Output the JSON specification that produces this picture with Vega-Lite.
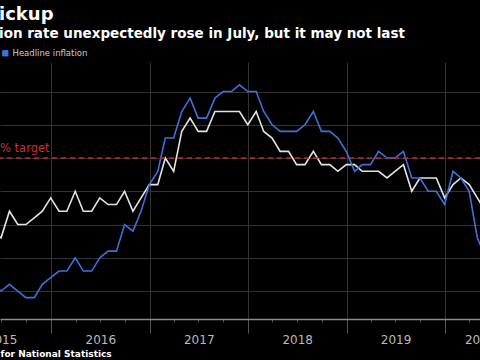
{
  "$schema": "https://vega.github.io/schema/vega-lite/v6.json",
  "width": 480,
  "height": 257,
  "autosize": {"type": "none"},
  "padding": {"top": 62, "left": 0, "right": 0, "bottom": 41},
  "background": "#000000",
  "config": {"view": {"stroke": null}, "font": "DejaVu Sans"},
  "title": {
    "text": "ickup",
    "subtitle": "ion rate unexpectedly rose in July, but it may not last",
    "anchor": "start",
    "frame": "group",
    "color": "#ffffff",
    "fontSize": 18,
    "fontWeight": "bold",
    "subtitleColor": "#ffffff",
    "subtitleFontSize": 13.5,
    "subtitleFontWeight": "bold",
    "subtitlePadding": 3,
    "offset": 9,
    "dx": -1
  },
  "datasets": {
    "infl": [
      {"date": "2015-01-31", "headline": 0.3, "core": 1.4},
      {"date": "2015-02-28", "headline": 0.0, "core": 1.2},
      {"date": "2015-03-31", "headline": 0.0, "core": 1.0},
      {"date": "2015-04-30", "headline": -0.1, "core": 0.8},
      {"date": "2015-05-31", "headline": 0.1, "core": 0.9},
      {"date": "2015-06-30", "headline": 0.0, "core": 0.8},
      {"date": "2015-07-31", "headline": 0.1, "core": 1.2},
      {"date": "2015-08-31", "headline": 0.0, "core": 1.0},
      {"date": "2015-09-30", "headline": -0.1, "core": 1.0},
      {"date": "2015-10-31", "headline": -0.1, "core": 1.1},
      {"date": "2015-11-30", "headline": 0.1, "core": 1.2},
      {"date": "2015-12-31", "headline": 0.2, "core": 1.4},
      {"date": "2016-01-31", "headline": 0.3, "core": 1.2},
      {"date": "2016-02-29", "headline": 0.3, "core": 1.2},
      {"date": "2016-03-31", "headline": 0.5, "core": 1.5},
      {"date": "2016-04-30", "headline": 0.3, "core": 1.2},
      {"date": "2016-05-31", "headline": 0.3, "core": 1.2},
      {"date": "2016-06-30", "headline": 0.5, "core": 1.4},
      {"date": "2016-07-31", "headline": 0.6, "core": 1.3},
      {"date": "2016-08-31", "headline": 0.6, "core": 1.3},
      {"date": "2016-09-30", "headline": 1.0, "core": 1.5},
      {"date": "2016-10-31", "headline": 0.9, "core": 1.2},
      {"date": "2016-11-30", "headline": 1.2, "core": 1.4},
      {"date": "2016-12-31", "headline": 1.6, "core": 1.6},
      {"date": "2017-01-31", "headline": 1.8, "core": 1.6},
      {"date": "2017-02-28", "headline": 2.3, "core": 2.0},
      {"date": "2017-03-31", "headline": 2.3, "core": 1.8},
      {"date": "2017-04-30", "headline": 2.7, "core": 2.4},
      {"date": "2017-05-31", "headline": 2.9, "core": 2.6},
      {"date": "2017-06-30", "headline": 2.6, "core": 2.4},
      {"date": "2017-07-31", "headline": 2.6, "core": 2.4},
      {"date": "2017-08-31", "headline": 2.9, "core": 2.7},
      {"date": "2017-09-30", "headline": 3.0, "core": 2.7},
      {"date": "2017-10-31", "headline": 3.0, "core": 2.7},
      {"date": "2017-11-30", "headline": 3.1, "core": 2.7},
      {"date": "2017-12-31", "headline": 3.0, "core": 2.5},
      {"date": "2018-01-31", "headline": 3.0, "core": 2.7},
      {"date": "2018-02-28", "headline": 2.7, "core": 2.4},
      {"date": "2018-03-31", "headline": 2.5, "core": 2.3},
      {"date": "2018-04-30", "headline": 2.4, "core": 2.1},
      {"date": "2018-05-31", "headline": 2.4, "core": 2.1},
      {"date": "2018-06-30", "headline": 2.4, "core": 1.9},
      {"date": "2018-07-31", "headline": 2.5, "core": 1.9},
      {"date": "2018-08-31", "headline": 2.7, "core": 2.1},
      {"date": "2018-09-30", "headline": 2.4, "core": 1.9},
      {"date": "2018-10-31", "headline": 2.4, "core": 1.9},
      {"date": "2018-11-30", "headline": 2.3, "core": 1.8},
      {"date": "2018-12-31", "headline": 2.1, "core": 1.9},
      {"date": "2019-01-31", "headline": 1.8, "core": 1.9},
      {"date": "2019-02-28", "headline": 1.9, "core": 1.8},
      {"date": "2019-03-31", "headline": 1.9, "core": 1.8},
      {"date": "2019-04-30", "headline": 2.1, "core": 1.8},
      {"date": "2019-05-31", "headline": 2.0, "core": 1.7},
      {"date": "2019-06-30", "headline": 2.0, "core": 1.8},
      {"date": "2019-07-31", "headline": 2.1, "core": 1.9},
      {"date": "2019-08-31", "headline": 1.7, "core": 1.5},
      {"date": "2019-09-30", "headline": 1.7, "core": 1.7},
      {"date": "2019-10-31", "headline": 1.5, "core": 1.7},
      {"date": "2019-11-30", "headline": 1.5, "core": 1.7},
      {"date": "2019-12-31", "headline": 1.3, "core": 1.4},
      {"date": "2020-01-31", "headline": 1.8, "core": 1.6},
      {"date": "2020-02-29", "headline": 1.7, "core": 1.7},
      {"date": "2020-03-31", "headline": 1.5, "core": 1.6},
      {"date": "2020-04-30", "headline": 0.8, "core": 1.4},
      {"date": "2020-05-31", "headline": 0.5, "core": 1.2},
      {"date": "2020-06-30", "headline": 0.6, "core": 1.4},
      {"date": "2020-07-31", "headline": 1.0, "core": 1.8}
    ],
    "target": [{"level": 2, "label": "% target"}]
  },
  "layer": [
    {
      "data": {"name": "infl"},
      "transform": [{"fold": ["core", "headline"], "as": ["series", "value"]}],
      "mark": {"type": "line", "clip": true, "strokeWidth": 1.6},
      "encoding": {
        "x": {
          "field": "date",
          "type": "temporal",
          "scale": {
            "type": "utc",
            "nice": false,
            "domain": [
              {"year": 2015, "month": 6, "date": 26, "utc": true},
              {"year": 2020, "month": 5, "date": 10, "utc": true}
            ]
          },
          "axis": {
            "orient": "bottom",
            "title": null,
            "labels": false,
            "values": [
              {"year": 2015, "month": 7, "date": 1, "utc": true},
              {"year": 2015, "month": 10, "date": 1, "utc": true},
              {"year": 2016, "month": 1, "date": 1, "utc": true},
              {"year": 2016, "month": 4, "date": 1, "utc": true},
              {"year": 2016, "month": 7, "date": 1, "utc": true},
              {"year": 2016, "month": 10, "date": 1, "utc": true},
              {"year": 2017, "month": 1, "date": 1, "utc": true},
              {"year": 2017, "month": 4, "date": 1, "utc": true},
              {"year": 2017, "month": 7, "date": 1, "utc": true},
              {"year": 2017, "month": 10, "date": 1, "utc": true},
              {"year": 2018, "month": 1, "date": 1, "utc": true},
              {"year": 2018, "month": 4, "date": 1, "utc": true},
              {"year": 2018, "month": 7, "date": 1, "utc": true},
              {"year": 2018, "month": 10, "date": 1, "utc": true},
              {"year": 2019, "month": 1, "date": 1, "utc": true},
              {"year": 2019, "month": 4, "date": 1, "utc": true},
              {"year": 2019, "month": 7, "date": 1, "utc": true},
              {"year": 2019, "month": 10, "date": 1, "utc": true},
              {"year": 2020, "month": 1, "date": 1, "utc": true},
              {"year": 2020, "month": 4, "date": 1, "utc": true}
            ],
            "grid": true,
            "gridColor": "#333333",
            "gridOpacity": {"condition": {"test": "utcmonth(datum.value) == 0", "value": 1}, "value": 0},
            "tickSize": {"condition": {"test": "utcmonth(datum.value) == 0", "value": 14}, "value": 3},
            "tickColor": "#555555",
            "domainColor": "#8c8c8c",
            "domainWidth": 1.5
          }
        },
        "y": {
          "field": "value",
          "type": "quantitative",
          "scale": {"domain": [-0.421, 3.444], "nice": false, "zero": false},
          "axis": {
            "title": null,
            "labels": false,
            "ticks": false,
            "domain": false,
            "values": [0, 0.5, 1, 1.5, 2, 2.5, 3],
            "grid": true,
            "gridColor": "#333333"
          }
        },
        "color": {
          "field": "series",
          "type": "nominal",
          "scale": {"domain": ["core", "headline"], "range": ["#e4e4e4", "#3d72d9"]},
          "legend": {
            "orient": "none",
            "legendX": 1,
            "legendY": -13,
            "title": null,
            "values": ["headline"],
            "labelExpr": "datum.value == 'headline' ? 'Headline inflation' : 'Core inflation'",
            "symbolType": "square",
            "symbolSize": 40,
            "labelColor": "#cccccc",
            "labelFontSize": 8.5,
            "labelOffset": 3,
            "padding": 0,
            "symbolOffset": 0,
            "encode": {"symbols": {"update": {"fill": {"value": "#3d72d9"}, "stroke": {"value": "#3d72d9"}, "strokeWidth": {"value": 0}}}}
          }
        }
      }
    },
    {
      "data": {"name": "target"},
      "mark": {"type": "rule", "color": "#c0282f", "strokeDash": [5, 4], "strokeWidth": 1.5},
      "encoding": {"y": {"field": "level", "type": "quantitative"}}
    },
    {
      "data": {"name": "target"},
      "mark": {"type": "text", "color": "#c4303a", "align": "left", "baseline": "bottom", "dy": -4, "fontSize": 11.5},
      "encoding": {
        "x": {
          "datum": {"year": 2015, "month": 6, "date": 26, "utc": true},
          "type": "temporal",
          "scale": {"type": "utc"},
          "axis": {
            "orient": "bottom",
            "values": [
              {"year": 2015, "month": 7, "date": 2, "utc": true},
              {"year": 2016, "month": 7, "date": 2, "utc": true},
              {"year": 2017, "month": 7, "date": 2, "utc": true},
              {"year": 2018, "month": 7, "date": 2, "utc": true},
              {"year": 2019, "month": 7, "date": 2, "utc": true},
              {"year": 2020, "month": 5, "date": 9, "utc": true}
            ],
            "format": "%Y",
            "grid": false,
            "ticks": false,
            "domain": false,
            "labelColor": "#bbbbbb",
            "labelFontSize": 12,
            "labelPadding": 15,
            "labelBound": false,
            "labelOverlap": false,
            "labelFlush": false,
            "title": "for National Statistics",
            "titleColor": "#ffffff",
            "titleFontSize": 9,
            "titleFontWeight": "bold",
            "titleAnchor": "start",
            "titleAlign": "left",
            "titleX": 0,
            "titleY": 34,
            "titleBaseline": "middle"
          }
        },
        "y": {"field": "level", "type": "quantitative"},
        "text": {"field": "label"}
      }
    }
  ],
  "resolve": {"axis": {"x": "independent"}}
}
